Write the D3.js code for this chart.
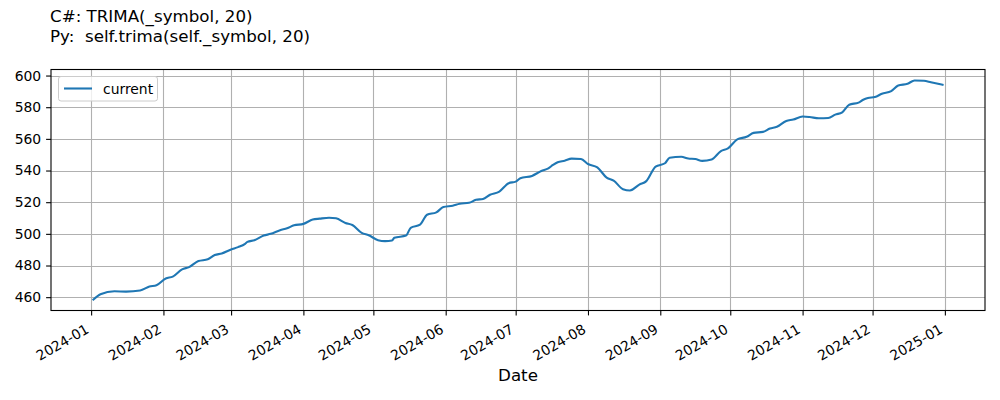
<!DOCTYPE html>
<html>
<head>
<meta charset="utf-8">
<script src="https://cdn.jsdelivr.net/npm/d3@7"></script>
<style>
  html, body { margin: 0; padding: 0; background: #fff; }
  svg { display: block; font-family: "DejaVu Sans", sans-serif; }
  svg text { font-family: "DejaVu Sans", sans-serif; }
</style>
</head>
<body>
<svg id="chart" width="1000" height="400"></svg>
<script>
const titleLines = ["C#: TRIMA(_symbol, 20)", "Py:  self.trima(self._symbol, 20)"];
const seriesName = "current";
const xLabel = "Date";

const dates = [
  "2024-01-02","2024-01-05","2024-01-11","2024-01-16","2024-01-22","2024-01-26","2024-01-29",
  "2024-02-02","2024-02-05","2024-02-09","2024-02-12","2024-02-16","2024-02-20","2024-02-23","2024-02-26","2024-03-01",
  "2024-03-04","2024-03-07","2024-03-08","2024-03-11","2024-03-15","2024-03-18","2024-03-22","2024-03-25","2024-03-28",
  "2024-04-01","2024-04-05","2024-04-08","2024-04-12","2024-04-15","2024-04-19","2024-04-22","2024-04-26","2024-04-29",
  "2024-05-03","2024-05-06","2024-05-09","2024-05-10","2024-05-15","2024-05-17","2024-05-21","2024-05-24","2024-05-28","2024-05-31",
  "2024-06-04","2024-06-07","2024-06-11","2024-06-14","2024-06-17","2024-06-20","2024-06-24","2024-06-28",
  "2024-07-01","2024-07-03","2024-07-08","2024-07-12","2024-07-15","2024-07-17","2024-07-19","2024-07-22","2024-07-25","2024-07-29",
  "2024-08-01","2024-08-05","2024-08-09","2024-08-12","2024-08-16","2024-08-19","2024-08-23","2024-08-26","2024-08-30",
  "2024-09-03","2024-09-05","2024-09-10","2024-09-13","2024-09-16","2024-09-19","2024-09-23","2024-09-27","2024-09-30",
  "2024-10-04","2024-10-08","2024-10-11","2024-10-15","2024-10-18","2024-10-21","2024-10-25","2024-10-28",
  "2024-11-01","2024-11-04","2024-11-08","2024-11-12","2024-11-15","2024-11-18","2024-11-21","2024-11-25","2024-11-27","2024-11-29",
  "2024-12-02","2024-12-05","2024-12-09","2024-12-12","2024-12-16","2024-12-19","2024-12-23","2024-12-26","2024-12-31"
];
const values = [
  458.5,461.8,463.7,463.5,464.2,466.7,467.5,
  471.8,473.0,477.6,479.0,482.8,483.9,486.6,487.6,490.1,
  491.6,493.7,494.9,496.0,498.9,500.0,502.3,503.5,505.4,
  506.3,509.0,509.6,510.2,509.8,506.9,505.6,500.6,499.1,
  496.0,495.4,495.8,497.5,498.9,503.8,505.8,512.1,513.6,516.9,
  517.8,519.0,519.6,521.5,522.0,524.7,526.7,532.0,
  533.0,535.1,536.6,539.7,541.4,543.5,545.2,546.2,547.5,547.3,
  544.1,542.0,535.5,533.6,528.2,527.4,531.1,533.3,542.5,
  544.6,548.1,548.7,547.6,547.3,546.1,547.0,552.3,554.0,
  559.7,561.3,563.8,564.4,566.5,567.6,571.3,572.2,
  574.1,573.8,573.0,573.2,575.3,576.8,581.6,582.9,584.7,585.8,
  586.4,588.5,590.2,593.7,594.8,596.9,596.7,595.8,594.2
];
const xTickLabels = ["2024-01","2024-02","2024-03","2024-04","2024-05","2024-06","2024-07","2024-08","2024-09","2024-10","2024-11","2024-12","2025-01"];
const yTickValues = [460,480,500,520,540,560,580,600];

const FONT = '"DejaVu Sans", sans-serif';
const parse = d3.timeParse("%Y-%m-%d");
const parseMonth = d3.timeParse("%Y-%m");
const data = dates.map((d, i) => ({ date: parse(d), value: values[i] }));

const margin = { left: 51, right: 985, top: 69.5, bottom: 310.5 };
const svg = d3.select("#chart");

// matplotlib-like 5% margins
const xExt = d3.extent(data, d => d.date.getTime());
const xPad = (xExt[1] - xExt[0]) * 0.05;
const yExt = d3.extent(data, d => d.value);
const yPad = (yExt[1] - yExt[0]) * 0.05;

const x = d3.scaleTime().domain([new Date(xExt[0] - xPad), new Date(xExt[1] + xPad)]).range([margin.left, margin.right]);
const y = d3.scaleLinear().domain([yExt[0] - yPad, yExt[1] + yPad]).range([margin.bottom, margin.top]);

const xTicks = xTickLabels.map(parseMonth);
const fmt = d3.timeFormat("%Y-%m");

// grid
const grid = svg.append("g");
grid.selectAll("line.vx").data(xTicks).enter().append("line")
  .attr("x1", d => Math.round(x(d)) + 0.5).attr("x2", d => Math.round(x(d)) + 0.5)
  .attr("y1", margin.top).attr("y2", margin.bottom)
  .attr("stroke", "#b0b0b0").attr("stroke-width", 1.1);
grid.selectAll("line.hy").data(yTickValues).enter().append("line")
  .attr("y1", d => Math.round(y(d)) + 0.5).attr("y2", d => Math.round(y(d)) + 0.5)
  .attr("x1", margin.left).attr("x2", margin.right)
  .attr("stroke", "#b0b0b0").attr("stroke-width", 1.1);

// line
const line = d3.line().x(d => x(d.date)).y(d => y(d.value)).curve(d3.curveMonotoneX);
svg.append("path").datum(data)
  .attr("fill", "none").attr("stroke", "#1f77b4").attr("stroke-width", 2.1)
  .attr("stroke-linejoin", "round").attr("stroke-linecap", "square")
  .attr("d", line);

// frame
svg.append("rect").attr("x", margin.left).attr("y", margin.top)
  .attr("width", margin.right - margin.left).attr("height", margin.bottom - margin.top)
  .attr("fill", "none").attr("stroke", "#000").attr("stroke-width", 1.1);

// x axis
const xAxis = d3.axisBottom(x).tickValues(xTicks).tickFormat(fmt).tickSize(4.9).tickPadding(4.9);
const gx = svg.append("g").attr("transform", `translate(0,${margin.bottom})`).call(xAxis)
  .attr("font-family", FONT).attr("font-size", 13.9);
gx.select(".domain").remove();
gx.selectAll(".tick line").attr("stroke", "#000").attr("stroke-width", 1.1);
gx.selectAll(".tick text")
  .attr("font-family", FONT).attr("font-size", "13.9px").attr("fill", "#000")
  .attr("text-anchor", "end")
  .attr("x", -1.6).attr("y", 21.5).attr("dy", 0)
  .attr("transform", "rotate(-30, -1.6, 21.5)");

// y axis
const yAxis = d3.axisLeft(y).tickValues(yTickValues).tickFormat(d3.format("d")).tickSize(4.9).tickPadding(4.9);
const gy = svg.append("g").attr("transform", `translate(${margin.left},0)`).call(yAxis)
  .attr("font-family", FONT).attr("font-size", 13.9);
gy.select(".domain").remove();
gy.selectAll(".tick line").attr("stroke", "#000").attr("stroke-width", 1.1);
gy.selectAll(".tick text").attr("font-family", FONT).attr("font-size", "13.9px").attr("fill", "#000");

// title
svg.append("g").selectAll("text").data(titleLines).enter().append("text")
  .attr("x", 50).attr("y", (d, i) => 22 + i * 20)
  .attr("font-family", FONT).attr("font-size", "16.7px").attr("fill", "#000")
  .style("white-space", "pre").attr("xml:space", "preserve")
  .text(d => d);

// x label
svg.append("text").attr("x", (margin.left + margin.right) / 2).attr("y", 381)
  .attr("text-anchor", "middle").attr("font-family", FONT).attr("font-size", "16.7px").attr("fill", "#000")
  .text(xLabel);

// legend
const lg = svg.append("g");
lg.append("rect").attr("x", 58.5).attr("y", 76.5).attr("width", 99).attr("height", 24.5)
  .attr("rx", 2.5).attr("fill", "#fff").attr("fill-opacity", 0.8)
  .attr("stroke", "#cccccc").attr("stroke-width", 1);
lg.append("line").attr("x1", 64).attr("x2", 92).attr("y1", 88.5).attr("y2", 88.5)
  .attr("stroke", "#1f77b4").attr("stroke-width", 2.1);
lg.append("text").attr("x", 103).attr("y", 93.5).attr("font-family", FONT).attr("font-size", "13.9px").attr("fill", "#000")
  .text(seriesName);
</script>
</body>
</html>
